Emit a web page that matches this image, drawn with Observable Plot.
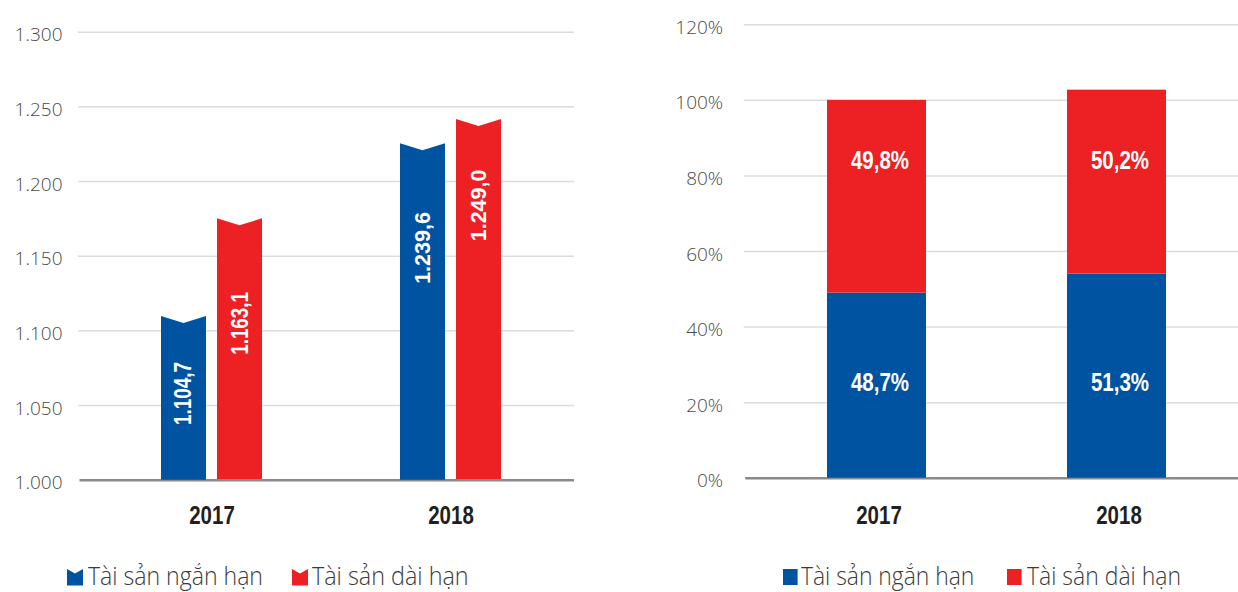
<!DOCTYPE html>
<html>
<head>
<meta charset="utf-8">
<script src="https://cdn.jsdelivr.net/npm/d3@7"></script>
<script src="https://cdn.jsdelivr.net/npm/@observablehq/plot@0.6"></script>
<style>
  html, body { margin: 0; padding: 0; background: #fff; overflow: hidden; }
  #wrap { position: relative; width: 1238px; height: 592px; overflow: hidden; background: #fff; }
  #left { position: absolute; left: 0; top: 0; width: 620px; }
  #right { position: absolute; left: 620px; top: 0; width: 640px; }
  #left svg, #right svg { max-width: none !important; }
  .leg { position: absolute; top: 563px; height: 29px; font-family: "Open Sans", sans-serif; font-weight: 300;
         font-size: 25px; line-height: 25px; color: #3a3a3a; white-space: nowrap; }
  .leg .txt { position: absolute; top: 0; transform-origin: 0 0; display: inline-block; }
  .leg svg { position: absolute; }
</style>
</head>
<body>
<div id="wrap">
  <div id="left"></div>
  <div id="right"></div>
  <div id="legends"></div>
</div>
<script>
// ---------------- DATA ----------------
const years = ["2017", "2018"];
const seriesNames = ["Tài sản ngắn hạn", "Tài sản dài hạn"];
const seriesColors = ["#0053a0", "#ed2024"];

// Left chart (tỷ đồng): bar heights as drawn, printed labels, label anchors
const shortTermBar = [1109.6, 1225.3];
const longTermBar = [1175.0, 1241.5];
const shortTermLabel = ["1.104,7", "1.239,6"];
const longTermLabel = ["1.163,1", "1.249,0"];
const shortTermLabelAt = [1058, 1155.5];
const longTermLabelAt = [1105, 1184];
const leftTicks = [1000, 1050, 1100, 1150, 1200, 1250, 1300];

// Right chart (%): stacked shares as drawn, printed labels
const shortTermShare = [49.0, 54.0];
const longTermShare = [51.0, 48.7];
const shortTermShareLabel = ["48,7%", "51,3%"];
const longTermShareLabel = ["49,8%", "50,2%"];
const shortTermShareLabelAt = [25.2, 25.2];
const longTermShareLabelAt = [83.9, 83.9];
const rightTicks = [0, 20, 40, 60, 80, 100, 120];

// ---------------- BUILD ----------------
const viLocale = d3.formatLocale({decimal: ",", thousands: ".", grouping: [3], currency: ["", ""]});
const fmtThousands = viLocale.format(",");

const leftData = years.flatMap((yr, i) => [
  {year: yr, s: 0, value: shortTermBar[i], label: shortTermLabel[i], at: shortTermLabelAt[i]},
  {year: yr, s: 1, value: longTermBar[i], label: longTermLabel[i], at: longTermLabelAt[i]}
]);
const rightData = years.flatMap((yr, i) => [
  {year: yr, series: seriesNames[0], value: shortTermShare[i], label: shortTermShareLabel[i], at: shortTermShareLabelAt[i]},
  {year: yr, series: seriesNames[1], value: longTermShare[i], label: longTermShareLabel[i], at: longTermShareLabelAt[i]}
]);

const narrow = "Liberation Sans, Arial, sans-serif";   // condensed afterwards
const regular = "Liberation Sans, sans-serif";
const light = "Open Sans, Noto Sans, sans-serif";
const valueLabel = (data, dx, family, size) => Plot.text(data, {
  x: "year", y: "at", text: "label", rotate: -90, dx,
  fill: "white", fontWeight: "bold", fontFamily: family, fontSize: size
});

const leftSvg = Plot.plot({
  width: 620, height: 545,
  marginLeft: 78, marginRight: 36, marginTop: 31.7, marginBottom: 65.3,
  x: {domain: years, paddingInner: 0.5774, paddingOuter: 0.347, axis: null},
  y: {domain: [1000, 1300], axis: null},
  style: {background: "transparent", overflow: "visible", maxWidth: "none"},
  marks: [
    Plot.ruleY(leftTicks.slice(1), {stroke: "#dcdcdc", strokeWidth: 1.5, insetRight: 10}),
    Plot.barY(leftData.filter(d => d.s === 1), {x: "year", y1: 1000, y2: "value", fill: seriesColors[1], insetLeft: 56}),
    Plot.ruleY([1000], {stroke: "#8a8a8a", strokeWidth: 2.5, insetLeft: 1.5, insetRight: 10}),
    Plot.barY(leftData.filter(d => d.s === 0), {x: "year", y1: 1000, y2: "value", fill: seriesColors[0], insetRight: 56}),
    valueLabel(leftData.filter(d => d.s === 0 && d.year === "2017"), -28, narrow, 23),
    valueLabel(leftData.filter(d => d.s === 1 && d.year === "2017"), 29, narrow, 23),
    valueLabel(leftData.filter(d => d.s === 0 && d.year === "2018"), -28, regular, 21.5),
    valueLabel(leftData.filter(d => d.s === 1 && d.year === "2018"), 28, regular, 21.5),
    Plot.text(leftTicks, {y: d => d, text: d => fmtThousands(d), frameAnchor: "left", textAnchor: "end",
      dx: -16, dy: 3, fill: "#4a4a4a", fontSize: 19, fontFamily: light, fontWeight: 300}),
    Plot.text(years, {x: d => d, y: () => 1000, text: d => d, dy: 36, fill: "#231f20",
      fontSize: 25, fontWeight: "bold", fontFamily: narrow})
  ]
});

// notch the top of each left bar (chevron-shaped ribbon end)
function notchBars(svg, depth) {
  svg.querySelectorAll('g[aria-label="bar"] rect').forEach(r => {
    const x = +r.getAttribute("x"), y = +r.getAttribute("y");
    const w = +r.getAttribute("width"), h = +r.getAttribute("height");
    const p = document.createElementNS("http://www.w3.org/2000/svg", "path");
    for (const a of r.attributes) if (!["x", "y", "width", "height"].includes(a.name)) p.setAttribute(a.name, a.value);
    p.setAttribute("d", `M${x},${y + h}V${y}L${x + w / 2},${y + depth}L${x + w},${y}V${y + h}Z`);
    r.replaceWith(p);
  });
}
// squeeze bold labels to a condensed width
function condense(svg, family, factor) {
  svg.querySelectorAll("g").forEach(g => {
    if (g.getAttribute("font-family") !== family) return;
    g.querySelectorAll("text").forEach(t => {
      const len = t.getComputedTextLength();
      if (len > 0) {
        t.setAttribute("textLength", (len * factor).toFixed(1));
        t.setAttribute("lengthAdjust", "spacingAndGlyphs");
      }
    });
  });
}
notchBars(leftSvg, 7);
document.getElementById("left").appendChild(leftSvg);
condense(leftSvg, narrow, 0.82);

const rightSvg = Plot.plot({
  width: 640, height: 545,
  marginLeft: 123.7, marginRight: 10.7, marginTop: 24.3, marginBottom: 67.3,
  x: {domain: years, paddingInner: 0.5875, paddingOuter: 0.347, axis: null},
  y: {domain: [0, 120], axis: null},
  color: {domain: seriesNames, range: seriesColors},
  style: {background: "transparent", overflow: "visible", maxWidth: "none"},
  marks: [
    Plot.ruleY(rightTicks.slice(1), {stroke: "#dcdcdc", strokeWidth: 1.5}),
    Plot.ruleY([0], {stroke: "#8a8a8a", strokeWidth: 2.5, insetLeft: 1.5}),
    Plot.barY(rightData, {x: "year", y: "value", fill: "series"}),
    Plot.text(rightData, {x: "year", y: "at", text: "label", dx: 3, fill: "white", fontWeight: "bold",
      fontFamily: narrow, fontSize: 25}),
    Plot.text(rightTicks, {y: d => d, text: d => d + "%", frameAnchor: "left", textAnchor: "end",
      dx: -21, dy: 3, fill: "#4a4a4a", fontSize: 19, fontFamily: light, fontWeight: 300}),
    Plot.text(years, {x: d => d, y: () => 0, text: d => d, dy: 38, dx: 2, fill: "#231f20",
      fontSize: 25, fontWeight: "bold", fontFamily: narrow})
  ]
});
document.getElementById("right").appendChild(rightSvg);
condense(rightSvg, narrow, 0.82);

// ---------------- LEGENDS ----------------
const legendItems = [
  {icon: "notch", iconX: 67.3, textX: 88.3, w: 175, s: 0},
  {icon: "notch", iconX: 291.7, textX: 311.7, w: 156.6, s: 1},
  {icon: "square", iconX: 782.7, textX: 800.7, w: 173.3, s: 0},
  {icon: "square", iconX: 1007.3, textX: 1026.7, w: 154, s: 1}
];
const legHost = document.getElementById("legends");
legendItems.forEach(it => {
  const div = document.createElement("div");
  div.className = "leg";
  div.style.left = "0px";
  const col = seriesColors[it.s];
  const shape = it.icon === "notch"
    ? `<polygon points="0,0 8,4.5 16,0 16,16.6 0,16.6" fill="${col}"/>`
    : `<rect x="0" y="0" width="14.6" height="16" fill="${col}"/>`;
  div.innerHTML = `<svg width="17" height="17" style="left:${it.iconX}px;top:${it.icon === "notch" ? 5.7 : 6.3}px">${shape}</svg>` +
    `<span class="txt" style="left:${it.textX}px">${seriesNames[it.s]}</span>`;
  legHost.appendChild(div);
  const span = div.querySelector(".txt");
  const actual = span.getBoundingClientRect().width;
  if (actual > 0) span.style.transform = `scaleX(${it.w / actual})`;
});
</script>
</body>
</html>
